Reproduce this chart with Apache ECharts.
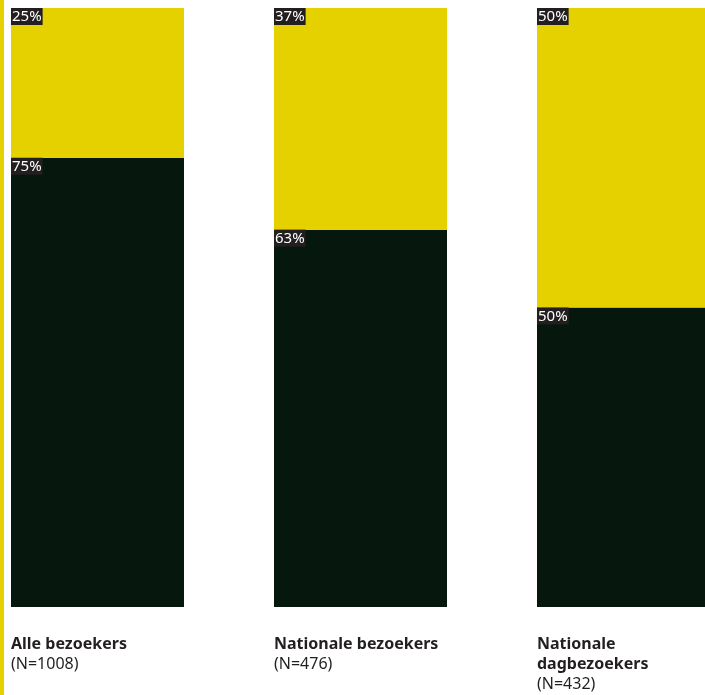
<!DOCTYPE html>
<html>
<head>
<meta charset="utf-8">
<script src="https://cdn.jsdelivr.net/npm/echarts@6/dist/echarts.min.js"></script>
<style>
  html, body { margin: 0; padding: 0; background: #fff; }
  #chart { width: 705px; height: 695px; }
</style>
</head>
<body>
<div id="chart"></div>
<script>
// categorieen en aantallen
var groepen = ['Alle bezoekers', 'Nationale bezoekers', 'Nationale\ndagbezoekers'];
var aantallen = ['(N=1008)', '(N=476)', '(N=432)'];
// aandelen in procenten
var donker = [75, 63, 50];
var geel = [25, 37, 50];

var chart = echarts.init(document.getElementById('chart'));

var labelStijl = {
  show: true,
  position: 'insideTopLeft',
  distance: 0,
  formatter: '{c}%',
  color: '#ffffff',
  backgroundColor: '#231f20',
  padding: [1, 1, 0, 1],
  fontFamily: 'Noto Sans',
  fontSize: 15,
  lineHeight: 16
};

var option = {
  animation: false,
  backgroundColor: '#ffffff',
  graphic: [{
    type: 'rect',
    left: 0,
    top: 0,
    shape: { width: 4, height: 695 },
    style: { fill: '#e5d000' }
  }],
  grid: {
    left: -34, width: 789, top: 8, bottom: 88,
    containLabel: false,
    outerBoundsMode: 'none'
  },
  xAxis: {
    type: 'category',
    data: groepen,
    axisLine: { show: false },
    axisTick: { show: false },
    axisLabel: {
      interval: 0,
      margin: 27,
      align: 'center',
      verticalAlign: 'top',
      width: 173,
      formatter: function (v, i) {
        var regels = v.split('\n').map(function (r) { return '{b|' + r + '}'; });
        return regels.join('\n') + '\n{n|' + aantallen[i] + '}';
      },
      rich: {
        b: { width: 173, align: 'left', fontFamily: 'Noto Sans', fontWeight: 'bold', fontSize: 16, lineHeight: 20, color: '#231f20' },
        n: { width: 173, align: 'left', fontFamily: 'Noto Sans', fontSize: 16, lineHeight: 20, color: '#231f20' }
      }
    }
  },
  yAxis: {
    type: 'value',
    min: 0,
    max: 100,
    show: false
  },
  series: [
    {
      type: 'bar',
      stack: 'totaal',
      barWidth: 173,
      data: donker,
      itemStyle: { color: '#06180e' },
      label: labelStijl
    },
    {
      type: 'bar',
      stack: 'totaal',
      barWidth: 173,
      data: geel,
      itemStyle: { color: '#e5d000' },
      label: labelStijl
    }
  ]
};

chart.setOption(option);
</script>
</body>
</html>
